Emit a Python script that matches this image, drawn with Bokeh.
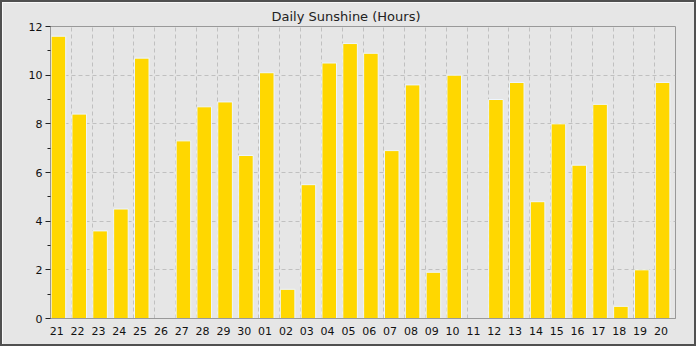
from bokeh.plotting import figure
from bokeh.models import Range1d, FixedTicker, ColumnDataSource
from bokeh.embed import file_html
from bokeh.resources import INLINE

days = ["21", "22", "23", "24", "25", "26", "27", "28", "29", "30",
        "01", "02", "03", "04", "05", "06", "07", "08", "09", "10",
        "11", "12", "13", "14", "15", "16", "17", "18", "19", "20"]
sunshine = [11.6, 8.4, 3.6, 4.5, 10.7, 0.0, 7.3, 8.7, 8.9, 6.7,
            10.1, 1.2, 5.5, 10.5, 11.3, 10.9, 6.9, 9.6, 1.9, 10.0,
            0.0, 9.0, 9.7, 4.8, 8.0, 6.3, 8.8, 0.5, 2.0, 9.7]
y_ticks = [0, 2, 4, 6, 8, 10, 12]
title_text = "Daily Sunshine (Hours)"

n = len(days)
xs = [i + 0.38 for i in range(n)]
src = ColumnDataSource(dict(x=xs, top=sunshine, day=days))

p = figure(width=696, height=346, output_backend="svg", toolbar_location=None,
           x_range=Range1d(0, n), y_range=Range1d(0, 12), title=title_text,
           min_border_left=48, min_border_right=23, min_border_top=24, min_border_bottom=30)
p.styles = {"border": "2px solid #505050"}

bg = "#e6e6e6"
p.background_fill_color = bg
p.border_fill_color = bg
p.outline_line_color = "#999999"

p.title.text_font = "DejaVu Sans"
p.title.text_font_size = "13px"
p.title.text_font_style = "normal"
p.title.text_color = "#222222"
p.title.align = "left"
p.title.offset = 221
p.title.vertical_align = "top"
p.title.standoff = 2

p.vbar(x="x", top="top", width=0.7, bottom=0, source=src,
       fill_color="#FFD700", line_color="#eef6ff", line_width=1)

# x axis
label_pos = [i + 0.3 for i in range(n)]
p.xaxis.ticker = FixedTicker(ticks=label_pos)
p.xaxis.major_label_overrides = {pos: d for pos, d in zip(label_pos, days)}
p.xaxis.major_tick_out = 0
p.xaxis.major_tick_in = 0
p.xaxis.minor_tick_out = 0
p.xaxis.minor_tick_in = 0
p.xaxis.major_label_standoff = 8
p.xaxis.axis_line_color = "#999999"

# y axis
p.yaxis.ticker = FixedTicker(ticks=y_ticks, minor_ticks=[1, 3, 5, 7, 9, 11])
p.yaxis.major_tick_out = 5
p.yaxis.major_tick_in = 0
p.yaxis.minor_tick_out = 3
p.yaxis.minor_tick_in = 0
p.yaxis.major_tick_line_color = "#222222"
p.yaxis.minor_tick_line_color = "#222222"
p.yaxis.major_label_standoff = 3
p.yaxis.axis_line_color = "#999999"

for ax in (p.xaxis, p.yaxis):
    ax.major_label_text_font = "DejaVu Sans"
    ax.major_label_text_font_size = "11px"
    ax.major_label_text_color = "#111111"

# grid
p.xgrid.ticker = FixedTicker(ticks=list(range(1, n)))
p.ygrid.ticker = FixedTicker(ticks=y_ticks[1:-1])
for g in (p.xgrid, p.ygrid):
    g.grid_line_color = "#c0c0c0"
    g.grid_line_dash = "4 3"
    g.grid_line_width = 1

open("out.html", "w").write(file_html(p, INLINE))
